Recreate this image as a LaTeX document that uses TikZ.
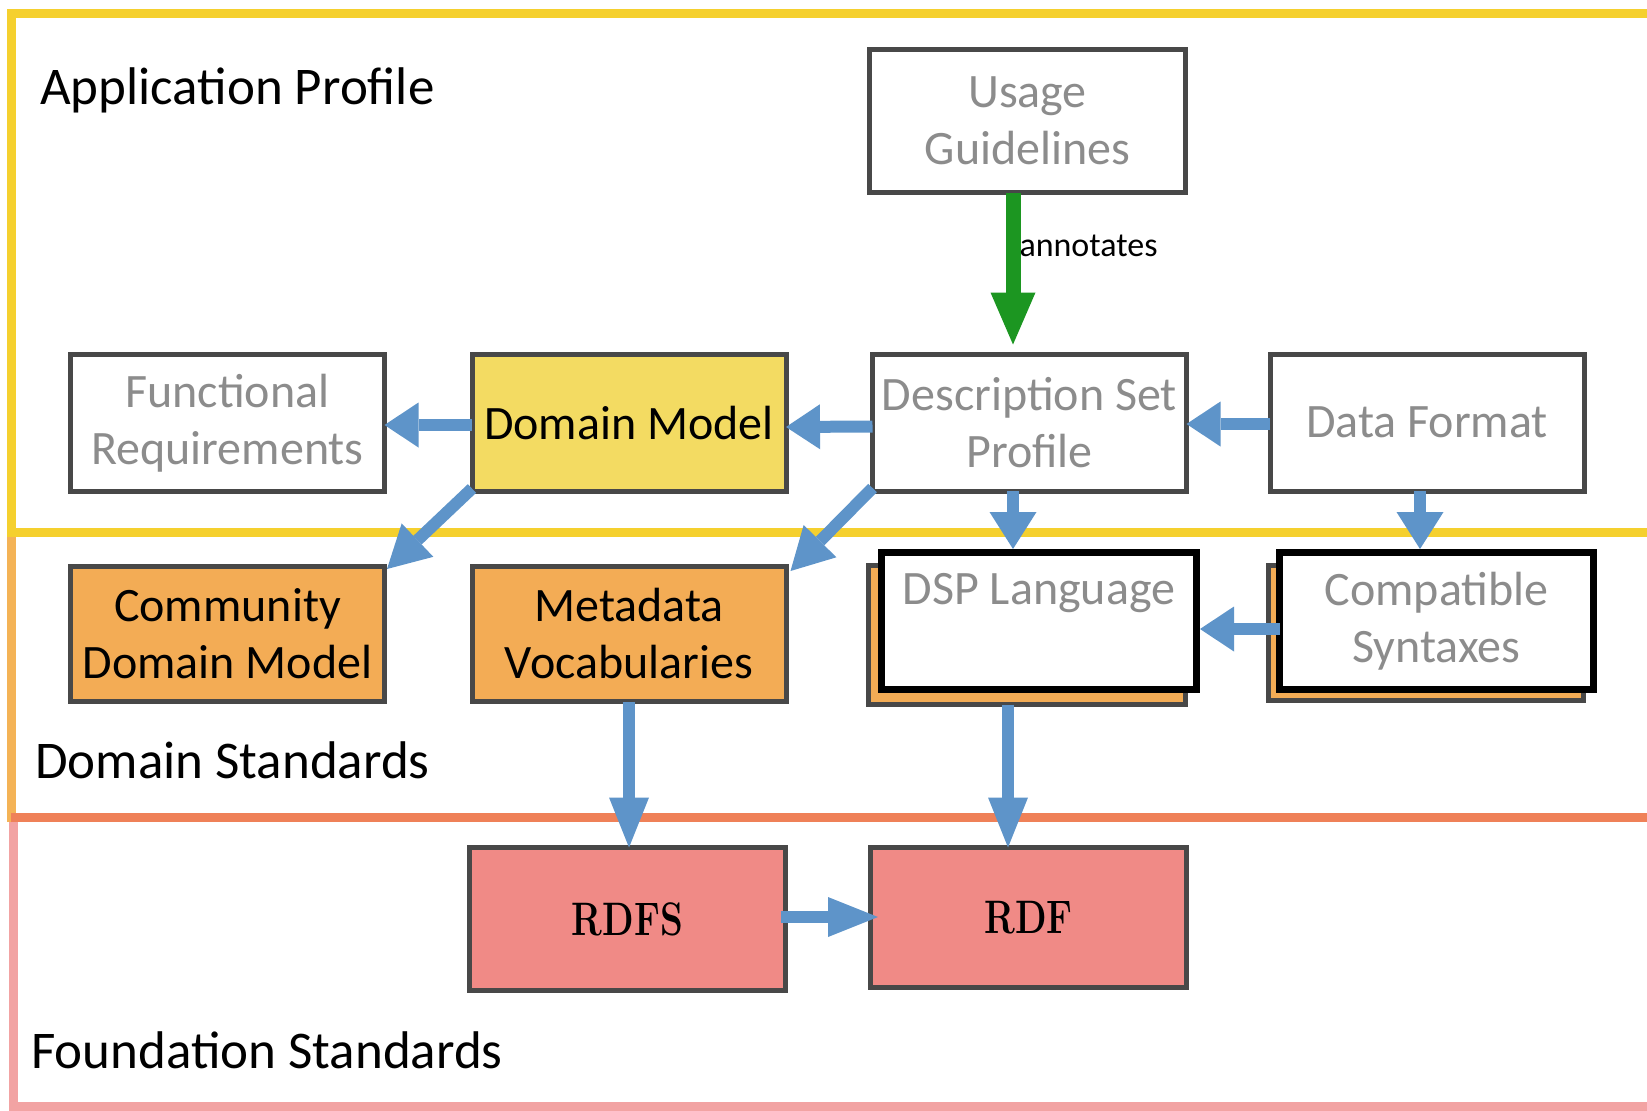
\documentclass[tikz,border=0pt]{standalone}
\usepackage{fontspec}
\usepackage{graphicx}
\usetikzlibrary{arrows.meta}
\newfontfamily\carl{Carlito}
\definecolor{yellowband}{HTML}{F5D02E}
\definecolor{orangeband}{HTML}{F4B356}
\definecolor{coralband}{HTML}{EF8158}
\definecolor{pinkband}{HTML}{F2A3A3}
\definecolor{dmyellow}{HTML}{F3DB62}
\definecolor{vorange}{HTML}{F3AC55}
\definecolor{rdfred}{HTML}{F08A86}
\definecolor{boxgray}{HTML}{484848}
\definecolor{txtgray}{HTML}{8C8C8C}
\definecolor{arrblue}{HTML}{5E94C9}
\definecolor{arrgreen}{HTML}{1C9621}
\newcommand\boxfont{\carl\fontsize{48}{57}\selectfont}
\newcommand\bandfont{\carl\fontsize{53}{64}\selectfont}
\newcommand\annfont{\carl\fontsize{34}{41}\selectfont}
\newcommand\rdffont{\rmfamily\bfseries\fontsize{47}{56}\selectfont}
\begin{document}
\begin{tikzpicture}[x=1pt,y=-1pt,
  box/.style={draw=boxgray, line width=5pt, minimum width=314pt, minimum height=137pt,
    inner sep=0pt, outer sep=0pt, align=center, font=\boxfont},
  frontbox/.style={box, draw=black, line width=7pt, fill=white, text=txtgray},
  gtext/.style={text=txtgray},
  bandlabel/.style={anchor=base west, inner sep=0pt, font=\bandfont},
  barrow/.style={draw=arrblue, line width=12pt, -{Triangle[length=34pt,width=45pt,line width=0pt]}},
  varrow/.style={draw=arrblue, line width=12pt, -{Triangle[length=37pt,width=47pt,line width=0pt]}},
  larrow/.style={draw=arrblue, line width=12pt, -{Triangle[length=50pt,width=40pt,line width=0pt]}},
  darrow/.style={draw=arrblue, line width=12pt, -{Triangle[length=42pt,width=46pt,line width=0pt]}},
  garrow/.style={draw=arrgreen, line width=15pt, -{Triangle[length=52pt,width=45pt,line width=0pt]}}
]
\useasboundingbox (0,0) rectangle (1647,1111);
\clip (0,0) rectangle (1647,1111);
\fill[white] (0,0) rectangle (1647,1111);

% bands
\draw[line width=9pt, draw=pinkband] (13,817) rectangle (1700,1106);
\draw[line width=9pt, draw=orangeband] (11,532) rectangle (1700,817);
\draw[line width=9pt, draw=coralband] (11,817) -- (1700,817);
\draw[line width=9pt, draw=yellowband] (11,13) rectangle (1700,532);

% band labels
\node[bandlabel] (lap) at (40,104) {Application Profile};
\node[bandlabel] (lds) at (35,778) {Domain Standards};
\node[bandlabel] (lfs) at (31,1068) {Foundation Standards};

% boxes
\node[box, gtext, minimum width=316pt, minimum height=143pt] (ug) at (1027.5,121) {Usage\\Guidelines};
\node[box, gtext] (fr) at (227.5,423) {Functional\\Requirements};
\node[box, fill=dmyellow] (dm) at (629,423) {Domain Model};
\node[box, gtext] (dsp) at (1029.5,422.5) {Description Set\\Profile};
\node[box, gtext] (df) at (1427,422.5) {Data Format};
\node[box, fill=vorange, minimum height=135pt] (cdm) at (227.5,634) {Community\\Domain Model};
\node[box, fill=vorange, minimum height=135pt] (mv) at (629,634) {Metadata\\Vocabularies};
\node[box, fill=vorange, minimum width=317pt, minimum height=139pt] (dsplb) at (1027,635) {};
\node[frontbox, minimum width=315pt, minimum height=137pt] (dsplf) at (1039,621) {DSP Language\\\phantom{Sy}};
\node[box, fill=vorange, minimum width=315pt, minimum height=135pt] (csb) at (1426,633) {};
\node[frontbox, minimum width=314pt, minimum height=137pt] (csf) at (1436.5,621) {Compatible\\Syntaxes};
\node[box, fill=rdfred, minimum width=316pt, minimum height=143pt, font=\rdffont] (rdfs) at (627.5,919) {\scalebox{0.78}[1]{RDFS}};
\node[box, fill=rdfred, minimum width=316pt, minimum height=140pt, font=\rdffont] (rdf) at (1028.5,917.5) {\scalebox{0.78}[1]{RDF}};

% connectors
\draw[garrow] ([xshift=-14.5pt]ug.south) -- node[pos=0.42, anchor=base west, inner sep=0pt, xshift=-1pt, font=\annfont, text=black] (ann) {annotates} ([xshift=-16.5pt,yshift=9.5pt]dsp.north);
\draw[barrow] ([yshift=-2pt]dm.west) -- ([yshift=-2pt]fr.east);
\draw[barrow] ([yshift=-4pt]dsp.west) -- ([yshift=-4pt]dm.east);
\draw[barrow] ([yshift=-1.5pt]df.west) -- ([yshift=-1.5pt]dsp.east);
\draw[varrow] ([xshift=-16.5pt]dsp.south) -- ([xshift=-26pt,yshift=3.5pt]dsplf.north);
\draw[varrow] ([xshift=-7pt]df.south) -- ([xshift=-16.5pt,yshift=3.5pt]csf.north);
\draw[barrow] ([yshift=-8pt]csf.west) -- ([xshift=3.5pt,yshift=-8pt]dsplf.east);
\draw[darrow] ([yshift=3pt]dm.south west) -- ([xshift=2.5pt,yshift=-2.5pt]cdm.north east);
\draw[darrow] ([yshift=3pt]dsp.south west) -- ([xshift=4.5pt,yshift=-4.5pt]mv.north east);
\draw[larrow] (mv.south) -- (mv.south |- rdfs.north);
\draw[larrow] ([xshift=-19pt]dsplb.south) -- ([xshift=-19pt]dsplb.south |- rdf.north);
\draw[larrow] ([xshift=-4.5pt,yshift=2pt]rdfs.east) -- ([xshift=7.5pt,yshift=0.5pt]rdf.west);
\end{tikzpicture}
\end{document}
